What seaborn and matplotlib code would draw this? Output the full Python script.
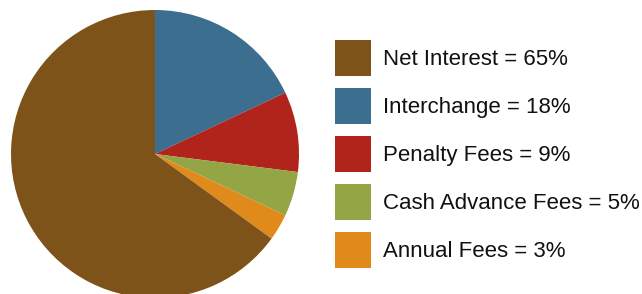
import matplotlib
matplotlib.use("Agg")
import matplotlib.pyplot as plt
import seaborn as sns

labels = ["Interchange", "Penalty Fees", "Cash Advance Fees", "Annual Fees", "Net Interest"]
shares = [18, 9, 5, 3, 65]
colors = ["#3B6E8F", "#B0241B", "#94A545", "#DF8A1A", "#7E531A"]
legend_order = ["Net Interest", "Interchange", "Penalty Fees", "Cash Advance Fees", "Annual Fees"]

sns.set_theme(style="white")
plt.rcParams['font.family'] = ['Liberation Sans', 'DejaVu Sans']

W, H = 642, 294
fig = plt.figure(figsize=(W / 100, H / 100), dpi=100)

# pie axes: radius ~144 px, centre at (155, 154) from top-left
r = 144
ax = fig.add_axes([(155 - r) / W, (H - 154 - r) / H, 2 * r / W, 2 * r / H])
wedges, _ = ax.pie(shares, colors=colors, startangle=90, counterclock=False,
                   radius=1, wedgeprops=dict(linewidth=0))
ax.set_xlim(-1, 1)
ax.set_ylim(-1, 1)
ax.set_aspect("equal")
ax.axis("off")

by_name = dict(zip(labels, wedges))
pct = dict(zip(labels, shares))
handles = [by_name[n] for n in legend_order]
texts = [f"{n} = {pct[n]}%" for n in legend_order]

fs = 16
fpx = fs * 100 / 72
box = 36 / fpx
# legend handle height = fs*(0.65*handleheight + 0.245)
hh = (box - 0.245) / 0.65
fig.legend(handles, texts, loc="upper left", bbox_to_anchor=(335 / W, 1 - 40 / H),
           frameon=False, fontsize=fs, borderpad=0, borderaxespad=0,
           handlelength=box, handleheight=hh, labelcolor="#111111",
           labelspacing=12 / fpx, handletextpad=12 / fpx)

fig.savefig("out.png", dpi=100)
